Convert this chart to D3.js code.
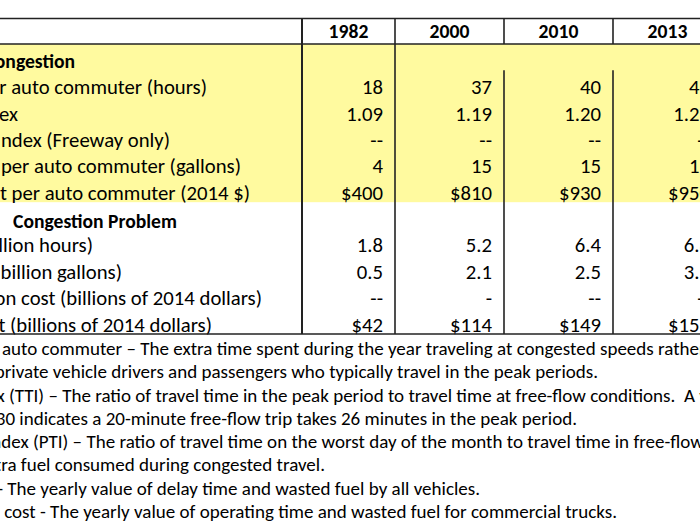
<!DOCTYPE html>
<html>
<head>
<meta charset="utf-8">
<script src="https://cdn.jsdelivr.net/npm/d3@7"></script>
<style>
  html, body { margin: 0; padding: 0; background: #fff; overflow: hidden; }
  svg { display: block; }
</style>
</head>
<body>
<script>
// ---------------- DATA ----------------
const years = ["1982", "2000", "2010", "2013"];

const sectionIndividual = "Individual Congestion";
const sectionNationLead = "The Nation's";
const sectionNationRest = "Congestion Problem";

const labelsIndividual = [
  "Yearly delay per auto commuter (hours)",
  "Travel Time Index",
  "Planning Time Index (Freeway only)",
  "Wasted fuel per auto commuter (gallons)",
  "Congestion cost per auto commuter (2014 $)"
];
const labelsNation = [
  "Total delay (billion hours)",
  "Total fuel wasted (billion gallons)",
  "Truck congestion cost (billions of 2014 dollars)",
  "Congestion cost (billions of 2014 dollars)"
];

const delayPerCommuter = ["18", "37", "40", "42"];
const travelTimeIndex = ["1.09", "1.19", "1.20", "1.21"];
const planningTimeIndex = ["--", "--", "--", "--"];
const fuelPerCommuter = ["4", "15", "15", "19"];
const costPerCommuter = ["$400", "$810", "$930", "$950"];
const totalDelay = ["1.8", "5.2", "6.4", "6.8"];
const totalFuel = ["0.5", "2.1", "2.5", "3.1"];
const truckCost = ["--", "-", "--", "--"];
const totalCost = ["$42", "$114", "$149", "$156"];

const footnotes = [
  "Yearly delay per auto commuter \u2013 The extra time spent during the year traveling at congested speeds rather than free-flow speeds by",
  "private vehicle drivers and passengers who typically travel in the peak periods.",
  "Travel Time Index (TTI) \u2013 The ratio of travel time in the peak period to travel time at free-flow conditions.  A value of",
  "value of 1.30 indicates a 20-minute free-flow trip takes 26 minutes in the peak period.",
  "Planning Time Index (PTI) \u2013 The ratio of travel time on the worst day of the month to travel time in free-flow conditions.",
  "Wasted fuel \u2013 Extra fuel consumed during congested travel.",
  "Congestion cost - The yearly value of delay time and wasted fuel by all vehicles.",
  "Truck congestion cost - The yearly value of operating time and wasted fuel for commercial trucks."
];

// ---------------- LAYOUT ----------------
const W = 700, H = 525;
const FONT = "Carlito, Lato, 'Open Sans', sans-serif";

const rows = [
  { type: "section", label: sectionIndividual },
  { type: "row", label: labelsIndividual[0], values: delayPerCommuter },
  { type: "row", label: labelsIndividual[1], values: travelTimeIndex },
  { type: "row", label: labelsIndividual[2], values: planningTimeIndex },
  { type: "row", label: labelsIndividual[3], values: fuelPerCommuter },
  { type: "row", label: labelsIndividual[4], values: costPerCommuter },
  { type: "section2", lead: sectionNationLead, label: sectionNationRest },
  { type: "row", label: labelsNation[0], values: totalDelay },
  { type: "row", label: labelsNation[1], values: totalFuel },
  { type: "row", label: labelsNation[2], values: truckCost },
  { type: "row", label: labelsNation[3], values: totalCost }
];
// right end of each (left-clipped) label
const labelEnds = [75, 207, 18, 170, 241, 250, 177, 93, 122, 262, 212];

const svg = d3.select("body").append("svg").attr("width", W).attr("height", H);
svg.append("rect").attr("width", W).attr("height", H).attr("fill", "#fff");

function measureStr(str, weight, size) {
  const t = svg.append("text").attr("font-family", FONT).attr("font-weight", weight)
    .attr("font-size", size).style("white-space", "pre").text(str);
  const w = t.node().getComputedTextLength();
  t.remove();
  return w;
}
// font calibration (reference uses Calibri)
const fitSize = (str, weight, target) => 20 * target / measureStr(str, weight, 20);
const fsTable = fitSize("(billions of 2014 dollars)", 400, 202);
const fsBold = fitSize("Congestion Problem", 700, 164);
const fsFoot = fitSize("The yearly value of delay time and wasted fuel by all vehicles.", 400, 473);

const y = d3.scaleBand().domain(d3.range(rows.length)).range([44, 334]);
const colLeft = d3.scaleOrdinal().domain(years).range([302, 395, 504, 613]);
const colRight = d3.scaleOrdinal().domain(years).range([395, 504, 613, 722]);
const base = i => y(i) + y.bandwidth() - 2.5;

// yellow band for individual measures
svg.append("rect")
  .attr("x", 0).attr("y", y(0)).attr("width", W)
  .attr("height", y(5) + y.bandwidth() - y(0))
  .attr("fill", "#fffa9f");

// header years
svg.selectAll("text.year").data(years).join("text")
  .attr("class", "year")
  .attr("x", d => (colLeft(d) + colRight(d)) / 2)
  .attr("y", 38)
  .attr("text-anchor", "middle")
  .attr("font-family", FONT).attr("font-weight", 700).attr("font-size", fsBold)
  .attr("fill", "#000")
  .text(d => d);

// row labels (clipped at the left edge)
rows.forEach((r, i) => {
  const bold = r.type !== "row";
  const t = svg.append("text")
    .attr("y", base(i) + (r.type === "section2" ? 1.5 : 0))
    .attr("font-family", FONT)
    .attr("font-weight", bold ? 700 : 400)
    .attr("font-size", bold ? fsBold : fsTable)
    .attr("fill", "#000");
  if (r.type === "section2") {
    const wLead = measureStr(r.lead, 700, fsBold);
    t.append("tspan").attr("x", -3 - wLead).text(r.lead);
    t.append("tspan").attr("x", 13).text(r.label);
  } else {
    t.attr("x", labelEnds[i]).attr("text-anchor", "end").text(r.label);
  }
});

// values
rows.forEach((r, i) => {
  if (r.type !== "row") return;
  svg.selectAll(null).data(years).enter().append("text")
    .attr("x", d => colRight(d) - 12)
    .attr("y", base(i))
    .attr("text-anchor", "end")
    .attr("font-family", FONT).attr("font-size", fsTable)
    .attr("fill", "#000")
    .text((d, k) => r.values[k]);
});

// grid lines
const lineColor = "#222";
[18.5, 44, 334].forEach(yy => {
  svg.append("line").attr("x1", 0).attr("x2", W).attr("y1", yy).attr("y2", yy)
    .attr("stroke", lineColor).attr("stroke-width", 1.5);
});
years.forEach((yr, k) => {
  const x = colLeft(yr);
  const segs = k >= 2 ? [[18.5, 44], [y(1), 334]] : [[18.5, 334]];
  segs.forEach(s => {
    svg.append("line").attr("x1", x).attr("x2", x).attr("y1", s[0]).attr("y2", s[1])
      .attr("stroke", lineColor).attr("stroke-width", k === 0 ? 2 : 1.6);
  });
});

// footnotes
const footY = d3.scaleLinear().domain([0, 7]).range([355, 518]);
// [anchor, x, hidden prefix] per footnote line
const footPos = [
  ["start", 2, "Yearly delay per "],
  ["end", 598, null],
  ["start", 9, "Travel Time Index "],
  ["end", 577, null],
  ["start", 33, "Planning Time Index "],
  ["end", 325, null],
  ["end", 480, null],
  ["end", 617, null]
];
footnotes.forEach((txt, i) => {
  const p = footPos[i];
  const x = p[0] === "start" ? p[1] - measureStr(p[2], 400, fsFoot) : p[1];
  svg.append("text")
    .attr("x", x).attr("y", footY(i))
    .attr("text-anchor", p[0])
    .attr("font-family", FONT).attr("font-size", fsFoot)
    .attr("fill", "#000")
    .style("white-space", "pre")
    .text(txt);
});
</script>
</body>
</html>
